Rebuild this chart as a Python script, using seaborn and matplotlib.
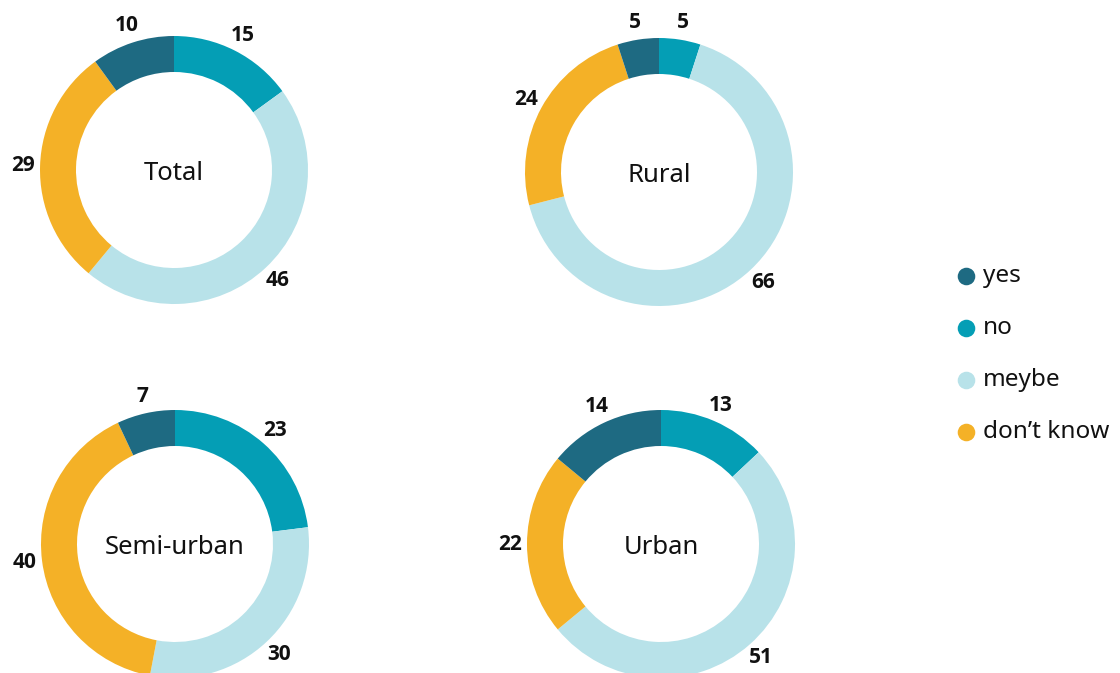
import numpy as np
import matplotlib
matplotlib.use("Agg")
import matplotlib.pyplot as plt
import seaborn as sns

# data
categories = ["yes", "no", "meybe", "don’t know"]
groups = ["Total", "Rural", "Semi-urban", "Urban"]
yes = [10, 5, 7, 14]
no = [15, 5, 23, 13]
meybe = [46, 66, 30, 51]
dont_know = [29, 24, 40, 22]

colors = sns.color_palette(["#1e6a82", "#049eb5", "#b8e2e9", "#f4b127"])

sns.set_theme(style="white")
plt.rcParams["font.family"] = ["Noto Sans", "DejaVu Sans"]

W, H = 1120, 673
fig = plt.figure(figsize=(W / 100, H / 100), dpi=100)
ax = fig.add_axes([0, 0, 1, 1])

# layout in pixel coords (image y measured from the top)
centers = [(174, 170), (659, 172), (175, 544), (661, 544)]
radius = 134
ring = 36

for i, name in enumerate(groups):
    vals = [yes[i], no[i], meybe[i], dont_know[i]]
    # clockwise from 12 o'clock: no, meybe, don't know, yes
    order = [1, 2, 3, 0]
    v = [vals[k] for k in order]
    c = [colors[k] for k in order]
    cx, cy = centers[i][0], H - centers[i][1]
    ax.pie(v, colors=c, startangle=90, counterclock=False, radius=radius,
           center=(cx, cy), frame=True,
           wedgeprops=dict(width=ring, linewidth=0))
    total = sum(v)
    start = 90.0
    for val in v:
        mid = start - 360.0 * val / total / 2
        start -= 360.0 * val / total
        r = radius * 1.13
        ax.text(cx + r * np.cos(np.radians(mid)), cy + r * np.sin(np.radians(mid)),
                str(val), ha="center", va="center", fontsize=15,
                fontweight="bold", family=["Open Sans", "DejaVu Sans"],
                color="#111111")
    ax.text(cx, cy - 3, name, ha="center", va="center", fontsize=18.5, color="#111111")

# legend
for j, cat in enumerate(categories):
    ly = H - (276 + 52 * j)
    ax.scatter([966], [ly], s=160, color=colors[j], linewidths=0)
    ax.text(983, ly, cat, ha="left", va="center", fontsize=17.5, color="#111111")

ax.set_xlim(0, W)
ax.set_ylim(0, H)
ax.set_aspect("equal")
ax.axis("off")

fig.savefig("out.png", dpi=100, facecolor="white")
